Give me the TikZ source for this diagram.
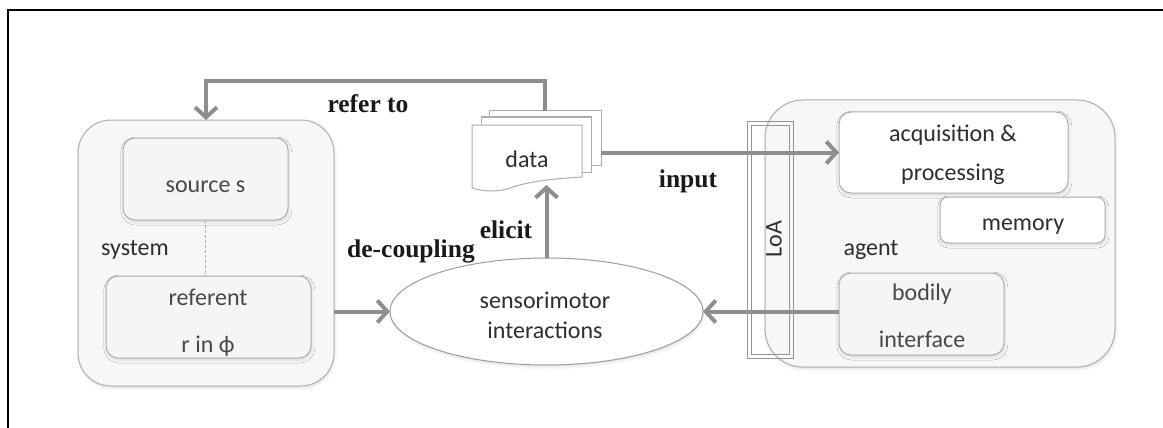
\documentclass[tikz,border=0pt]{standalone}
\usepackage{fontspec}
\setmainfont{Liberation Serif}
\newfontfamily\calfont{Carlito}
\usetikzlibrary{arrows.meta,shapes.geometric,shadows.blur}

\definecolor{arrowgray}{HTML}{8E8E8E}
\definecolor{edgegray}{HTML}{ADADAD}
\definecolor{panelfill}{HTML}{F7F7F7}
\definecolor{innerfill}{HTML}{F5F5F5}
\definecolor{txtgray}{HTML}{2E2E2E}
\definecolor{softtxt}{HTML}{484848}

\begin{document}
\begin{tikzpicture}[x=1pt,y=-1pt,
  every node/.style={inner sep=0pt,outer sep=0pt},
  softshadow/.style={blur shadow={shadow xshift=0.8pt,shadow yshift=-2pt,shadow opacity=12,shadow blur radius=3pt}},
  panelbox/.style={draw=edgegray,line width=1pt,fill=panelfill,rounded corners=#1,softshadow},
  panelbox/.default=34pt,
  greybox/.style={draw=edgegray,line width=1pt,fill=innerfill,rounded corners=12pt,softshadow},
  whitebox/.style={draw=edgegray,line width=1pt,fill=white,rounded corners=#1,softshadow},
  whitebox/.default=12pt,
  docsheet/.style={draw=edgegray,line width=1pt,fill=white},
  sanstext/.style={font=\calfont\fontsize{24}{24}\selectfont,text=txtgray,anchor=base},
  softtext/.style={sanstext,text=softtxt},
  boldlabel/.style={font=\bfseries\fontsize{25.5}{25.5}\selectfont,text=black!90,anchor=base},
  flow/.style={draw=arrowgray,line width=4pt,-{Straight Barb[length=10pt,width=22pt]}},
  plainflow/.style={draw=arrowgray,line width=4pt}
]
\useasboundingbox (0,0) rectangle (1163,428);

% frame lines
\draw[line width=2.4pt,line join=miter] (8,428) -- (8,10) -- (1163,10);

% system panel and its parts
\node[panelbox=33pt,minimum width=256pt,minimum height=266pt] (sys) at (206,253) {};
\node[greybox,minimum width=165pt,minimum height=82pt] (source) at (205.5,179) {};
\node[greybox,minimum width=205pt,minimum height=82pt] (referent) at (208.5,317) {};
\draw[edgegray,line width=0.9pt,dash pattern=on 3pt off 2pt] (source.south) -- (source.south |- referent.north);
\node[softtext] (sourcetxt) at (205.5,192) {source s};
\node[sanstext] (systxt) at (135,255) {system};
\node[softtext] (reftxt) at (208,305) {referent};
\node[softtext] (reftxtb) at (208,352) {r in ϕ};

% agent panel and its parts
\node[panelbox=38pt,minimum width=350pt,minimum height=267pt] (agent) at (940,233.5) {};
\node[whitebox,minimum width=229pt,minimum height=81pt] (acq) at (953.5,152.5) {};
\node[whitebox=8pt,minimum width=165pt,minimum height=46pt] (mem) at (1022.5,220) {};
\node[greybox,minimum width=165pt,minimum height=82pt] (bodily) at (921.5,314) {};
\node[sanstext] (acqtxt) at (953,142) {acquisition \&};
\node[sanstext] (acqtxtb) at (953,180) {processing};
\node[sanstext] (memtxt) at (1023,230) {memory};
\node[sanstext] (agenttxt) at (871,255) {agent};
\node[softtext] (bodtxt) at (922,300) {bodily};
\node[softtext] (bodtxtb) at (922,347) {interface};

% stacked data sheets
\draw[docsheet] (489,111) -- (601,111) -- (601,165) -- (489,165) -- cycle;
\draw[docsheet] (481,117) -- (591,117) -- (591,172) -- (481,172) -- cycle;
\draw[docsheet] (472,125) -- (582,125) -- (582,177)
  .. controls (552,179) and (530,181) .. (510,188)
  .. controls (495,193) and (482,191) .. (472,188) -- cycle;
\node[sanstext] (data) at (527,167) {data};
\coordinate (dataTop) at (545,111);
\coordinate (dataRight) at (601,152.5);
\coordinate (dataBottom) at (546.5,185);

% sensorimotor interactions
\node[ellipse,draw=edgegray!90!black,line width=1pt,fill=white,softshadow,
      minimum width=313pt,minimum height=107pt] (ell) at (546.5,311.5) {};
\node[sanstext] (elltxt) at (545,308) {sensorimotor};
\node[sanstext] (elltxtb) at (545,338) {interactions};

% connectors
\coordinate (topLeft) at (206,81);
\draw[flow,line join=miter] (dataTop) -- (dataTop |- topLeft) -- (topLeft) -- (sys.north -| topLeft);
\draw[flow] (dataRight) -- (acq.west);
\draw[flow] (ell.north) -- (dataBottom);
\draw[flow] (sys.east |- ell.west) -- (ell.west);
\draw[flow] (bodily.west |- ell.east) -- (ell.east);

% level of abstraction
\node[draw=edgegray!85!black,line width=1pt,minimum width=46pt,minimum height=237pt] (loa) at (770,239.5) {};
\draw[edgegray!85!black,line width=1pt] ([shift={(4,4)}]loa.north west) rectangle ([shift={(-4,-4)}]loa.south east);
\node[font=\calfont\fontsize{24}{24}\selectfont,text=txtgray,rotate=90] (loatxt) at (774,239) {LoA};

% connector labels
\node[boldlabel] (refertxt) at (368,113) {refer to};
\node[boldlabel] (inputtxt) at (688,187) {input};
\node[boldlabel] (elicittxt) at (506,238) {elicit};
\node[boldlabel] (decoupletxt) at (411,257) {de-coupling};
\end{tikzpicture}
\end{document}
